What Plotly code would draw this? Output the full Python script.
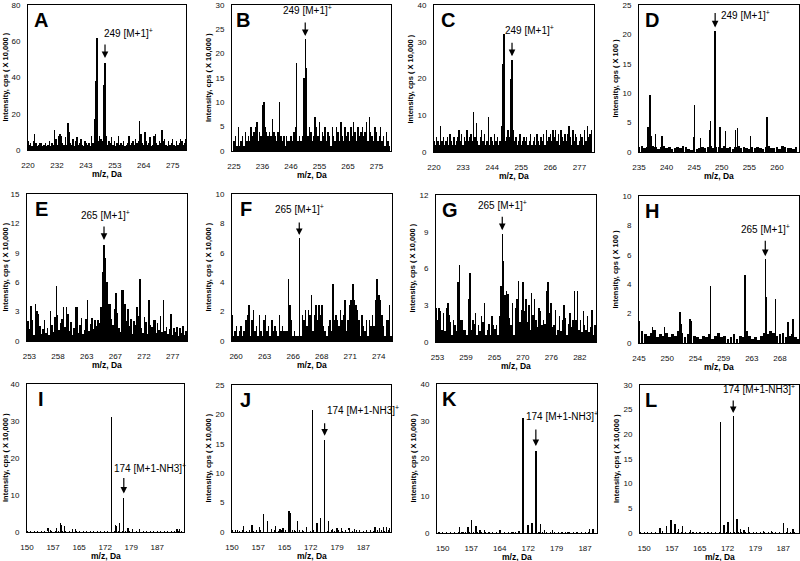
import numpy as np
import plotly.graph_objects as go

# ---------------- data ----------------
# Panel A: profile, m/z from 220 in 0.5 Da steps
a_mz0, a_step = 220.0, 0.5
a_int = [5, 3, 4, 2, 5, 9, 4, 2, 3, 4,
         4, 2, 3, 4, 2, 3, 5, 2, 4, 3,
         11, 6, 3, 8, 9, 8, 4, 3, 7, 3,
         15, 10, 4, 3, 6, 2, 5, 7, 3, 4,
         6, 3, 2, 5, 4, 3, 4, 2, 8, 4,
         17, 38, 62, 5, 8, 6, 5, 36, 48, 8,
         3, 5, 4, 7, 3, 5, 2, 4, 8, 3,
         4, 3, 5, 2, 3, 4, 8, 3, 4, 5,
         3, 6, 4, 5, 16, 9, 4, 3, 10, 5,
         3, 4, 7, 2, 3, 8, 9, 4, 3, 5,
         4, 11, 5, 6, 3, 2, 5, 3, 4, 6,
         3, 2, 5, 3, 4, 6, 5, 3, 4, 6]
a_ticks = ["220", "232", "243", "253", "264", "275"]

# Panel B
b_mz0, b_step = 225.0, 0.5
b_int = [2, 3, 1, 5, 1, 2, 3, 1, 4, 2,
         3, 2, 5, 3, 4, 5, 6, 2, 4, 3,
         9.5, 10, 5, 4, 3, 4, 3, 6.5, 4, 3,
         2, 4, 10, 3, 2, 3, 1, 3, 2, 2,
         3, 2, 4, 5, 18, 2, 3, 2, 3, 15,
         23, 17, 3, 5, 4, 2, 3, 7, 5, 3,
         6, 2, 4, 3, 5, 2, 4, 3, 1, 5,
         3, 2, 5, 4, 2, 6, 3, 2, 5, 3,
         4, 2, 5, 3, 6, 4, 2, 5, 3, 4,
         5, 3, 4, 6, 2, 7, 4, 3, 2, 5,
         4, 2, 3, 5, 2, 3, 1, 4, 2, 1]
b_ticks = ["225", "236", "246", "255", "265", "275"]

# Panel C
c_mz0, c_step = 220.0, 0.5
c_int = [3, 2, 4, 3, 2, 7, 3, 4, 2, 3,
         4, 2, 5, 3, 2, 4, 2, 3, 4, 6,
         3, 5, 2, 4, 3, 6, 3, 4, 5, 3,
         11, 4, 8, 3, 2, 4, 6, 3, 5, 2,
         3, 9.5, 2, 4, 3, 2, 5, 3, 4, 2,
         3, 7, 24, 32, 3, 4, 6, 4, 20, 25,
         6, 3, 4, 2, 3, 5, 2, 3, 4, 3,
         4, 2, 3, 5, 2, 3, 4, 2, 5, 3,
         2, 4, 3, 5, 2, 6, 3, 4, 5, 3,
         6, 4, 6, 3, 5, 2, 6, 4, 3, 5,
         3, 5, 7, 4, 2, 6, 3, 5, 4, 2,
         3, 5, 4, 2, 6, 3, 7, 4, 5, 6]
c_ticks = ["220", "233", "244", "255", "266", "277"]

# Panel D: baseline (0.5 Da steps) + individual peaks
d_base_mz0, d_base_step = 235.0, 0.5
d_base = [0.8, 1.0, 0.6, 0.9, 0.7, 1.1, 0.8, 0.5, 0.9, 1.0,
          0.6, 0.8, 0.5, 0.7, 0.9, 0.6, 1.0, 0.8, 0.5, 0.4,
          0.6, 0.5, 0.7, 0.9, 0.6, 0.8, 1.0, 0.7, 0.9, 0.8,
          0.6, 1.0, 0.7, 0.9, 0.5, 0.8, 1.1, 0.6, 0.9, 0.7,
          0.5, 0.8, 0.6, 0.9, 0.7, 0.5, 0.8, 1.0, 0.6, 0.7,
          0.9, 0.5, 1.0, 0.8, 0.6, 0.7, 0.5, 0.8]
d_peak_mz = [236.6, 237.0, 237.2, 238.0, 239.2, 244.9, 245.1, 246.1, 247.8, 248.0,
             248.8, 249.7, 250.7, 252.5, 252.8, 255.2, 258.2]
d_peak_int = [4.3, 9.0, 2.8, 2.2, 2.7, 2.5, 8.0, 2.3, 3.8, 4.2,
              20.5, 4.3, 3.5, 3.0, 4.0, 2.7, 6.0]
d_ticks = ["235", "240", "245", "250", "255", "260"]

# Panel E
e_mz0, e_step = 252.5, 0.25
e_int = [3.5, 2.0, 1.2, 3.6, 2.1, 0.6, 3.8, 3.1, 2.8, 1.5, 0.7, 1.2,
         2.1, 0.8, 1.3, 0.6, 3.1, 1.6, 0.9, 2.4, 5.6, 2.7, 1.1, 1.8,
         2.2, 3.5, 1.4, 3.5, 2.8, 1.0, 1.9, 0.6, 1.3, 3.5, 3.5, 0.8,
         1.6, 2.3, 0.7, 1.1, 2.2, 4.2, 1.0, 1.7, 2.3, 1.2, 2.1, 1.5,
         2.1, 1.8, 3.5, 7.0, 9.8, 8.5, 6.0, 3.8, 3.8, 2.2, 1.6, 3.3,
         4.9, 2.9, 1.3, 0.9, 5.2, 5.2, 3.8, 2.0, 3.3, 1.5, 2.2, 0.7,
         2.0, 1.6, 3.5, 2.6, 6.3, 1.3, 0.8, 2.5, 1.9, 0.7, 4.2, 1.6,
         1.4, 2.1, 2.1, 0.8, 1.8, 1.1, 2.6, 0.9, 4.2, 1.0, 1.4, 0.7,
         1.2, 2.8, 0.6, 1.3, 0.9, 1.4, 0.5, 1.3, 0.8, 1.5, 0.6, 1.0]
e_ticks = ["253", "258", "263", "267", "272", "277"]

# Panel F
f_mz0, f_step = 259.6, 0.15
f_int = [1.75, 0.35, 0.7, 1.05, 0.35, 0.7, 1.05, 0.35, 0.7, 1.4,
         1.75, 2.45, 0.35, 1.4, 2.1, 0.7, 1.05, 0.35, 1.75, 0.7,
         0.35, 1.4, 1.75, 0.7, 1.05, 0.35, 1.4, 0.7, 1.05, 0.7,
         0.35, 1.75, 0.7, 1.05, 0.7, 0.7, 0.7, 4.2, 2.45, 1.4,
         0.35, 0.7, 0.35, 0.35, 7.0, 0.35, 1.75, 1.4, 2.1, 1.05,
         2.1, 1.75, 3.15, 0.7, 1.75, 2.45, 1.4, 2.45, 1.75, 2.45,
         1.05, 0.7, 0.35, 1.05, 1.4, 0.7, 3.85, 1.4, 1.75, 1.4,
         1.05, 2.1, 1.4, 1.75, 2.8, 0.7, 1.4, 2.45, 2.8, 3.85,
         2.8, 2.45, 2.1, 1.4, 0.35, 1.75, 1.05, 0.7, 1.4, 0.35,
         1.4, 1.05, 1.75, 1.05, 2.8, 4.2, 3.15, 2.8, 1.75, 1.05,
         0.35, 1.4, 1.4, 2.45, 0.35]
f_ticks = ["260", "263", "266", "268", "271", "274"]

# Panel G
g_mz0, g_step = 252.7, 0.3
g_int = [2.8, 1.8, 2.8, 2.5, 1.0, 2.4, 0.9, 2.8, 3.2, 2.2,
         1.6, 0.6, 1.8, 1.4, 0.9, 4.9, 6.3, 1.8, 1.8, 1.0,
         1.0, 0.6, 3.5, 5.6, 1.0, 1.8, 1.5, 2.4, 0.6, 1.4,
         0.9, 2.1, 1.6, 3.2, 0.6, 1.0, 1.5, 0.6, 2.1, 1.4,
         1.1, 1.4, 0.6, 2.1, 4.6, 8.8, 6.6, 3.8, 4.2, 3.9,
         2.0, 1.4, 3.2, 0.6, 2.8, 3.5, 5.0, 1.6, 2.6, 4.9,
         2.5, 3.5, 1.6, 3.0, 1.0, 4.0, 2.2, 3.5, 1.8, 1.2,
         2.8, 2.5, 1.4, 1.8, 1.5, 4.2, 4.9, 2.4, 3.2, 1.2,
         1.4, 2.6, 0.6, 1.0, 2.1, 0.9, 1.8, 3.0, 2.0, 0.6,
         1.5, 2.4, 1.2, 1.8, 4.2, 1.8, 4.2, 1.0, 1.8, 0.8,
         2.5, 1.4, 1.0, 2.1, 0.8, 1.2, 2.6, 0.6, 1.4]
g_ticks = ["253", "259", "265", "270", "276", "282"]

# Panel H: baseline + peaks
h_base_mz0, h_base_step = 245.0, 0.5
h_base = [1.4, 0.8, 0.6, 0.5, 0.7, 0.9, 0.4, 0.6, 0.5, 0.7,
          0.4, 0.6, 0.5, 0.8, 0.7, 0.4, 0.6, 0.3, 0.5, 0.4,
          0.3, 0.5, 0.4, 0.6, 0.3, 0.5, 0.7, 0.4, 0.5, 0.3,
          0.4, 0.6, 0.3, 0.5, 0.4, 0.8, 0.5, 0.3, 0.4, 0.2,
          0.5, 0.7, 0.6, 0.8, 0.7, 0.5, 0.6, 0.7, 0.4, 0.5,
          0.6, 0.4, 0.3]
h_peak_mz = [245.1, 247.2, 249.2, 251.7, 251.9, 253.3, 253.5, 256.7, 262.3, 265.6,
             265.8, 267.3, 269.3, 270.1]
h_peak_int = [1.5, 1.1, 1.1, 2.1, 1.3, 1.6, 1.2, 3.9, 4.6, 5.7,
              3.1, 3.0, 1.4, 1.6]
h_ticks = ["245", "250", "254", "259", "263", "268"]

# Panels I-L: sparse stick spectra (baseline at 1 Da steps)
frag_ticks = ["150", "157", "165", "172", "179", "187"]
k_ticks = ["150", "157", "164", "172", "179", "187"]

i_base = [0.3, 0.2, 0.3, 0.2, 0.3, 0.4, 0.2, 0.3, 0.2, 0.3, 0.2, 0.3, 0.2, 0.4, 0.2,
          0.3, 0.2, 0.3, 0.2, 0.3, 0.2, 0.3, 0.2, 0.3, 0.2, 0.3, 0.4, 0.2, 0.3, 0.2,
          0.3, 0.2, 0.3, 0.2, 0.3, 0.2, 0.3, 0.2, 0.4, 0.3, 0.2, 0.3, 0.2, 0.3, 0.2]
i_peak_mz = [156.0, 156.6, 158.3, 159.6, 159.85, 160.7, 162.9, 163.8, 174.0, 175.1,
             175.5, 176.3, 177.5, 178.7, 180.0, 182.0, 192.6, 193.4]
i_peak_int = [1.0, 0.5, 1.2, 2.4, 1.8, 1.6, 0.9, 0.7, 31.0, 1.9,
              1.7, 2.3, 9.3, 1.1, 0.6, 0.5, 0.7, 0.8]

j_base = [0.3, 0.4, 0.2, 0.3, 0.2, 0.3, 0.2, 0.4, 0.3, 0.2, 0.3, 0.2, 0.3, 0.2, 0.4,
          0.3, 0.2, 0.3, 0.2, 0.4, 0.2, 0.3, 0.2, 0.3, 0.2, 0.4, 0.3, 0.2, 0.3, 0.2,
          0.4, 0.2, 0.3, 0.3, 0.2, 0.3, 0.4, 0.2, 0.3, 0.3, 0.2, 0.4, 0.3, 0.2, 0.3]
j_peak_mz = [151.5, 153.3, 155.6, 157.8, 158.8, 160.0, 161.1, 162.3, 163.5, 164.4,
             166.1, 166.4, 167.6, 168.4, 169.8, 171.0, 172.6, 173.9, 174.9, 176.1,
             177.2, 178.4, 179.6, 180.8, 183.0, 184.6, 190.3, 191.5, 192.6, 193.5, 194.3]
j_peak_int = [0.4, 1.0, 1.2, 0.9, 3.0, 1.5, 0.5, 1.0, 0.5, 0.6,
              3.6, 3.3, 0.4, 1.8, 0.4, 0.5, 20.7, 1.6, 2.3, 15.7,
              1.9, 0.5, 0.7, 0.7, 0.4, 0.5, 0.9, 0.7, 0.8, 0.8, 0.6]

k_base = [0.3, 0.2, 0.3, 0.2, 0.3, 0.2, 0.3, 0.2, 0.3, 0.2, 0.3, 0.2, 0.3, 0.2, 0.3,
          0.2, 0.3, 0.2, 0.3, 0.2, 0.3, 0.2, 0.3, 0.2, 0.3, 0.2, 0.3, 0.2, 0.3, 0.2,
          0.3, 0.2, 0.3, 0.2, 0.3, 0.2, 0.3, 0.2, 0.3, 0.2, 0.3]
k_peak_mz = [149.9, 154.3, 155.3, 156.6, 157.5, 158.6, 159.7, 160.8, 161.9, 164.9,
             168.4, 169.8, 170.9, 172.1, 173.2, 174.2, 175.4, 176.4, 178.5, 182.6,
             184.8, 188.1, 189.1]
k_peak_int = [0.3, 1.5, 0.4, 1.5, 3.4, 1.9, 0.8, 0.8, 0.3, 0.8,
              0.4, 0.6, 31.0, 2.2, 2.8, 22.0, 2.5, 0.7, 0.8, 0.4,
              0.4, 1.2, 1.2]

l_base = [0.3, 0.2, 0.3, 0.2, 0.3, 0.2, 0.3, 0.2, 0.3, 0.2, 0.3, 0.2, 0.3, 0.2, 0.3,
          0.2, 0.3, 0.2, 0.3, 0.2, 0.3, 0.2, 0.3, 0.2, 0.3, 0.2, 0.3, 0.2, 0.3, 0.2,
          0.3, 0.2, 0.3, 0.2, 0.3, 0.2, 0.3, 0.2, 0.3, 0.2, 0.3, 0.2]
l_peak_mz = [154.2, 154.9, 156.0, 157.1, 158.2, 159.2, 160.2, 162.4, 164.8, 170.3,
             171.3, 172.2, 172.5, 173.7, 174.7, 175.6, 176.6, 177.7, 181.7, 183.9,
             187.1, 188.1, 189.6]
l_peak_int = [1.0, 0.5, 1.3, 2.6, 1.8, 0.8, 1.4, 0.6, 0.3, 22.5,
              1.6, 2.2, 2.2, 23.7, 2.8, 0.9, 0.7, 1.2, 0.4, 0.4,
              2.0, 1.0, 0.8]

labels_249 = "249 [M+1]<sup>+</sup>"
labels_265 = "265 [M+1]<sup>+</sup>"
labels_174 = "174 [M+1-NH3]<sup>+</sup>"
ytitle_10000 = "Intensity, cps ( X 10,000 )"
ytitle_100 = "Intensity, cps ( X 100 )"
xtitle = "m/z, Da"


def profile(mz0, step, vals):
    x = [mz0 + step * i for i in range(len(vals))]
    return x, list(vals), [step] * len(vals)


def sticks(base_mz0, base_step, base, pmz, pint, base_w, stick_w):
    bx = [base_mz0 + base_step * i for i in range(len(base))]
    return (bx + list(pmz), list(base) + list(pint),
            [base_w] * len(base) + [stick_w] * len(pmz))


W, H = 800, 561
panels = [
    dict(L="A", rect=(28, 5, 186, 150), data=profile(a_mz0, a_step, a_int),
         xr=(220, 279.5), t0=220, dt=10.9, tt=a_ticks, ymax=80, ydt=20, yt=ytitle_10000,
         lab=labels_249, pk=249.0, xa="left", xs=-3, ys=22, tail=20, so=5, ya="bottom", ldx=4),
    dict(L="B", rect=(232, 5, 391, 151), data=profile(b_mz0, b_step, b_int),
         xr=(224.3, 280.1), t0=225, dt=10, tt=b_ticks, ymax=30, ydt=5, yt=ytitle_10000,
         lab=labels_249, pk=250.0, xa="center", xs=2, ys=21, tail=18, so=3, ya="bottom", ldx=2),
    dict(L="C", rect=(434, 5, 594, 152), data=profile(c_mz0, c_step, c_int),
         xr=(220, 280.5), t0=220, dt=11, tt=c_ticks, ymax=40, ydt=10, yt=ytitle_10000,
         lab=labels_249, pk=249.5, xa="left", xs=-9, ys=22, tail=19, so=4, ya="bottom", ldx=5),
    dict(L="D", rect=(639, 5, 799, 152),
         data=sticks(d_base_mz0, d_base_step, d_base, d_peak_mz, d_peak_int, 0.45, 0.25),
         xr=(235, 264), t0=235, dt=5, tt=d_ticks, ymax=25, ydt=5, yt=ytitle_100,
         lab=labels_249, pk=248.8, xa="left", xs=4, ys=16, tail=20, so=4, ya="middle", ldx=4),
    dict(L="E", rect=(27, 194, 187, 341), data=profile(e_mz0, e_step, e_int),
         xr=(252.6, 279.4), t0=253, dt=4.8, tt=e_ticks, ymax=15, ydt=3, yt=ytitle_10000,
         lab=labels_265, pk=265.5, xa="center", xs=1, ys=22, tail=20, so=5, ya="bottom", ldx=6),
    dict(L="F", rect=(232, 194, 392, 341), data=profile(f_mz0, f_step, f_int),
         xr=(259.6, 275.3), t0=260, dt=2.8, tt=f_ticks, ymax=10, ydt=2, yt=ytitle_10000,
         lab=labels_265, pk=266.2, xa="center", xs=0, ys=21, tail=17, so=3, ya="bottom", ldx=6),
    dict(L="G", rect=(436, 195, 596, 342), data=profile(g_mz0, g_step, g_int),
         xr=(252.7, 285.3), t0=253, dt=5.8, tt=g_ticks, ymax=12, ydt=3, yt=ytitle_10000,
         lab=labels_265, pk=266.2, xa="center", xs=0, ys=21, tail=19, so=4, ya="bottom", ldx=4),
    dict(L="H", rect=(639, 196, 799, 343),
         data=sticks(h_base_mz0, h_base_step, h_base, h_peak_mz, h_peak_int, 0.45, 0.22),
         xr=(245, 271.1), t0=245, dt=4.6, tt=h_ticks, ymax=10, ydt=2, yt=ytitle_100,
         lab=labels_265, pk=265.6, xa="center", xs=0, ys=22, tail=20, so=3, ya="bottom", ldx=4),
    dict(L="I", rect=(27, 384, 184, 532),
         data=sticks(150.0, 1.0, i_base, i_peak_mz, i_peak_int, 0.3, 0.38),
         xr=(150, 194.6), t0=150, dt=7.4, tt=frag_ticks, ymax=40, ydt=10, yt=ytitle_10000,
         lab=labels_174, pk=177.5, xa="left", xs=-12, ys=22, tail=21, so=4, ya="bottom", ldx=9),
    dict(L="J", rect=(232, 385, 391, 532),
         data=sticks(150.0, 1.0, j_base, j_peak_mz, j_peak_int, 0.3, 0.38),
         xr=(150, 194.8), t0=150, dt=7.4, tt=frag_ticks, ymax=25, ydt=5, yt=ytitle_10000,
         lab=labels_174, pk=176.1, xa="left", xs=0, ys=22, tail=18, so=4, ya="bottom", ldx=6),
    dict(L="K", rect=(437, 384, 597, 533),
         data=sticks(149.0, 1.0, k_base, k_peak_mz, k_peak_int, 0.3, 0.38),
         xr=(148.5, 190.1), t0=150, dt=7.4, tt=k_ticks, ymax=40, ydt=10, yt=ytitle_10000,
         lab=labels_174, pk=174.2, xa="left", xs=-12, ys=27, tail=23, so=5, ya="bottom", ldx=3),
    dict(L="L", rect=(640, 385, 799, 533),
         data=sticks(149.0, 1.0, l_base, l_peak_mz, l_peak_int, 0.3, 0.38),
         xr=(148.9, 191.2), t0=150, dt=7.4, tt=frag_ticks, ymax=30, ydt=5, yt=ytitle_10000,
         lab=labels_174, pk=173.7, xa="left", xs=-12, ys=19, tail=17, so=3, ya="bottom", ldx=3),
]

FONT = "Arial, 'Liberation Sans', Helvetica, sans-serif"
fig = go.Figure()
annotations = []
layout = {}

for n, p in enumerate(panels, start=1):
    l, t, r, b = p["rect"]
    xs_, ys_, ws_ = p["data"]
    sfx = "" if n == 1 else str(n)
    fig.add_trace(go.Bar(x=xs_, y=ys_, width=ws_, marker=dict(color="black", line=dict(width=0)),
                         xaxis="x" + sfx, yaxis="y" + sfx, showlegend=False, hoverinfo="skip"))
    ntick = len(p["tt"])
    layout["xaxis" + sfx] = dict(
        domain=[l / W, r / W], anchor="y" + sfx, range=list(p["xr"]), automargin=False,
        tickmode="array", tickvals=[p["t0"] + p["dt"] * k for k in range(ntick)], ticktext=p["tt"],
        showline=True, mirror=True, linecolor="black", linewidth=1, ticks="", showgrid=False,
        zeroline=False, tickfont=dict(size=8, color="#111", family=FONT), ticklabelstandoff=7)
    layout["yaxis" + sfx] = dict(
        domain=[1 - b / H, 1 - t / H], anchor="x" + sfx, range=[0, p["ymax"]], dtick=p["ydt"], tick0=0,
        automargin=False,
        showline=True, mirror=True, linecolor="black", linewidth=1, ticks="", showgrid=False,
        zeroline=False, tickfont=dict(size=8, color="#111", family=FONT), ticklabelstandoff=5)

    cand = [(yv, xv) for xv, yv in zip(xs_, ys_) if abs(xv - p["pk"]) < 0.06]
    py, px = max(cand)
    annotations.append(dict(x=px, y=py, xref="x" + sfx, yref="y" + sfx, text="", showarrow=True,
                            ax=0, ay=-p["tail"], arrowhead=2, arrowsize=1.1, arrowwidth=1.2,
                            arrowcolor="black", standoff=p["so"]))
    annotations.append(dict(x=px, y=py, xref="x" + sfx, yref="y" + sfx, text=p["lab"], showarrow=False,
                            xanchor=p["xa"], yanchor=p["ya"], xshift=p["xs"], yshift=p["ys"],
                            font=dict(size=10, color="black", family=FONT)))
    annotations.append(dict(x=(l + p["ldx"]) / W, y=1 - (t + 2) / H, xref="paper", yref="paper",
                            text="<b>%s</b>" % p["L"], showarrow=False, xanchor="left", yanchor="top",
                            font=dict(size=20, color="black", family=FONT)))
    annotations.append(dict(x=max(l - 24, 5) / W, y=1 - (t + b) / 2 / H, xref="paper", yref="paper",
                            text="<b>%s</b>" % p["yt"], showarrow=False, textangle=-90,
                            xanchor="center", yanchor="middle",
                            font=dict(size=7.5, color="black", family=FONT)))
    annotations.append(dict(x=(l + r) / 2 / W, y=1 - (b + 24) / H, xref="paper", yref="paper",
                            text="<b>%s</b>" % xtitle, showarrow=False, xanchor="center", yanchor="middle",
                            font=dict(size=8.5, color="black", family=FONT)))

fig.update_layout(width=W, height=H, margin=dict(l=0, r=0, t=0, b=0, autoexpand=False),
                  paper_bgcolor="white", plot_bgcolor="white", bargap=0, showlegend=False,
                  annotations=annotations, font=dict(family=FONT), hovermode=False, **layout)
fig.write_html("out.html", config={"displayModeBar": False, "staticPlot": True},
               post_script="document.body.style.margin='0';document.body.style.padding='0';")
